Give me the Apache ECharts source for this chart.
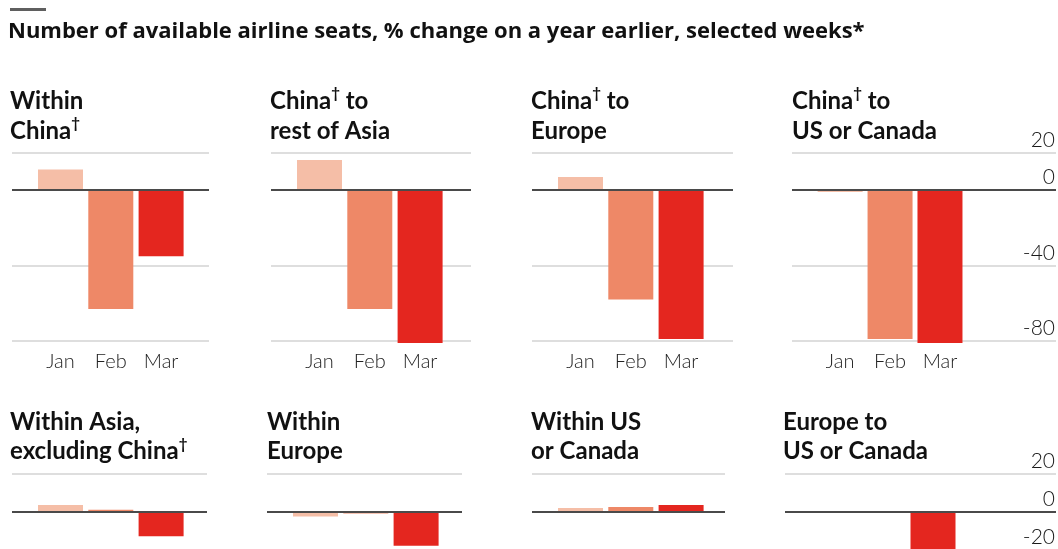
<!DOCTYPE html>
<html>
<head>
<meta charset="utf-8">
<script src="https://cdn.jsdelivr.net/npm/echarts@6/dist/echarts.min.js"></script>
<style>
  html, body { margin: 0; padding: 0; background: #ffffff; overflow: hidden; }
  #chart { width: 1058px; height: 640px; }
</style>
</head>
<body>
<div id="chart"></div>
<script>
// Weeks compared with the same week a year earlier
const months = ['Jan', 'Feb', 'Mar'];

// Panel titles ({s|†} is drawn as a superscript dagger)
const topTitles = [
  'Within\nChina{s|†}',
  'China{s|†} to\nrest of Asia',
  'China{s|†} to\nEurope',
  'China{s|†} to\nUS or Canada'
];
const bottomTitles = [
  'Within Asia,\nexcluding China{s|†}',
  'Within\nEurope',
  'Within US\nor Canada',
  'Europe to\nUS or Canada'
];

// % change in available airline seats
const withinChina = [11, -63, -35];
const chinaToRestOfAsia = [16, -63, -81];
const chinaToEurope = [7, -58, -79];
const chinaToUsCanada = [-1, -79, -81];
const withinAsiaExChina = [3.5, 1, -13];
const withinEurope = [-2.5, -1, -18];
const withinUsCanada = [2, 2.5, 3.5];
const europeToUsCanada = [0, 0, -28];

// Value-axis tick labels
const topTicks = [20, 0, -40, -80];
const bottomTicks = [20, 0, -20];

const monthColors = ['#f5bea7', '#ee8867', '#e4261f'];
const gridColor = '#d3d3d3';
const none = 'rgba(0,0,0,0)';

// Panel geometry: [left, right edge]
const topBoxes = [[12, 209], [271, 471], [532, 733], [792, 1058]];
const bottomBoxes = [[12, 207], [267, 462], [532, 725], [785, 1058]];
const topTitleX = [10, 270, 531, 792];
const bottomTitleX = [10, 267, 531, 783];
const BAR_STEP = 50.3;     // px between month bars
const FIRST_BAR = 48.5;    // px from panel left to the Jan bar centre

const topData = [withinChina, chinaToRestOfAsia, chinaToEurope, chinaToUsCanada];
const bottomData = [withinAsiaExChina, withinEurope, withinUsCanada, europeToUsCanada];

const grids = [], xAxes = [], yAxes = [], series = [], titles = [];

titles.push({
  text: 'Number of available airline seats, % change on a year earlier, selected weeks*',
  left: 8, top: 18, padding: 0,
  textStyle: { fontFamily: 'Open Sans', fontWeight: 'bold', fontSize: 22, lineHeight: 28, color: '#111111' }
});

function titleStyle(lineHeight) {
  return {
    fontFamily: 'Lato', fontWeight: 'bold', fontSize: 24, lineHeight: lineHeight, color: '#111111',
    rich: {
      s: { fontFamily: 'Lato', fontWeight: 'bold', fontSize: 15, lineHeight: 18, verticalAlign: 'top', color: '#111111' }
    }
  };
}

function addPanel(box, values, row, isLast) {
  const i = grids.length;
  const left = box[0], width = box[1] - box[0];
  const isTop = row === 0;
  grids.push({
    left: left, width: width,
    top: isTop ? 152.5 : 474,
    height: isTop ? 188.5 : 113.1
  });
  const xMin = 1 - FIRST_BAR / BAR_STEP;
  xAxes.push({
    type: 'value', gridIndex: i,
    min: xMin, max: xMin + width / BAR_STEP,
    axisLine: { show: false }, axisTick: { show: false }, splitLine: { show: false },
    axisLabel: {
      show: isTop,
      customValues: [1, 2, 3],
      formatter: v => months[Math.round(v) - 1],
      margin: 11,
      fontFamily: 'Lato', fontWeight: 300, fontSize: 20, color: '#222222'
    }
  });
  const ticks = isTop ? topTicks : bottomTicks;
  yAxes.push({
    type: 'value', gridIndex: i, position: 'right',
    min: isTop ? -80 : -40, max: 20, interval: 20,
    axisLine: { show: false }, axisTick: { show: false },
    splitLine: {
      show: true,
      lineStyle: {
        width: 1.5,
        // lines run from min upward: top row -80..20, bottom row -40..20
        color: isTop ? [gridColor, none, gridColor, none, none, gridColor]
                     : [gridColor, gridColor, none, gridColor]
      }
    },
    axisLabel: {
      show: isLast,
      inside: true,
      verticalAlign: 'bottom',
      margin: 1,
      padding: [0, 0, 2, 0],
      formatter: v => (ticks.indexOf(v) >= 0 ? String(v) : ''),
      fontFamily: 'Lato', fontWeight: 300, fontSize: 21, color: '#1a1a1a'
    }
  });
  series.push({
    type: 'bar', xAxisIndex: i, yAxisIndex: i,
    barWidth: 45, clip: false, silent: true,
    data: values.map((v, k) => [k + 1, v]),
    itemStyle: { color: p => monthColors[p.dataIndex] },
    markLine: {
      silent: true, symbol: ['none', 'none'],
      label: { show: false },
      lineStyle: { color: '#4a4a4a', width: 2, type: 'solid' },
      emphasis: { disabled: true },
      data: [{ yAxis: 0 }]
    }
  });
}

topBoxes.forEach((b, k) => {
  addPanel(b, topData[k], 0, k === 3);
  titles.push({ text: topTitles[k], left: topTitleX[k], top: 86, padding: 0, textStyle: titleStyle(30) });
});
bottomBoxes.forEach((b, k) => {
  addPanel(b, bottomData[k], 1, k === 3);
  titles.push({ text: bottomTitles[k], left: bottomTitleX[k], top: 408, padding: 0, textStyle: titleStyle(29) });
});

const chart = echarts.init(document.getElementById('chart'), null, { renderer: 'canvas' });
chart.setOption({
  animation: false,
  backgroundColor: '#ffffff',
  title: titles,
  grid: grids,
  xAxis: xAxes,
  yAxis: yAxes,
  series: series,
  graphic: [{
    type: 'rect', left: 10, top: 8,
    shape: { width: 36, height: 3 },
    style: { fill: '#5f5f5f' }
  }]
});
</script>
</body>
</html>
